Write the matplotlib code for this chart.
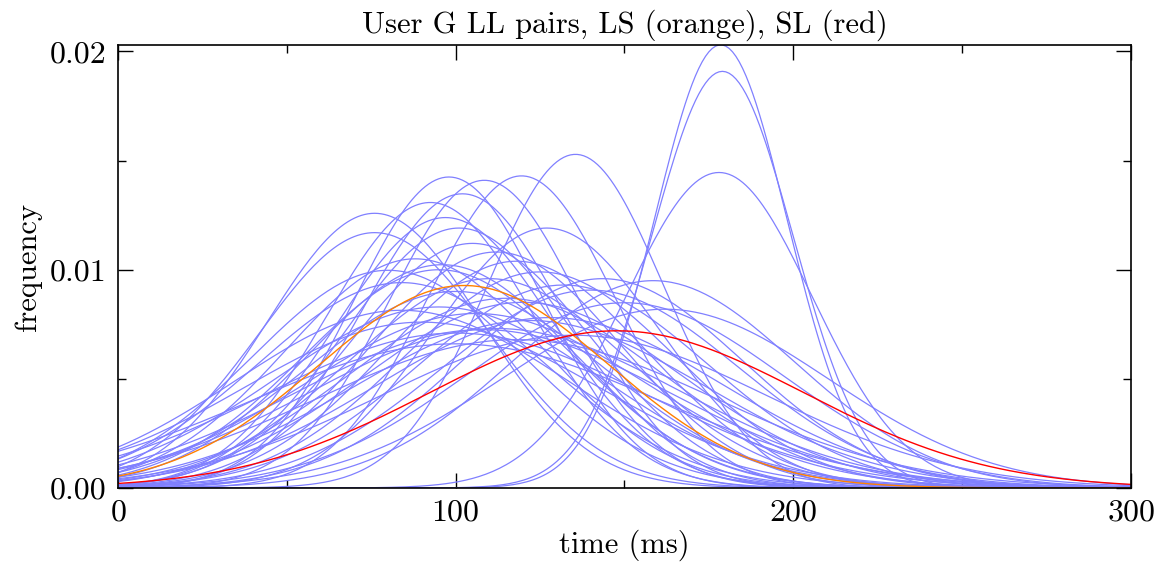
import numpy as np
import matplotlib
matplotlib.use("Agg")
import matplotlib.pyplot as plt
from matplotlib.ticker import MultipleLocator, FormatStrFormatter

plt.rcParams['font.family'] = 'cmr10'
plt.rcParams['axes.formatter.use_mathtext'] = True
plt.rcParams['mathtext.fontset'] = 'cm'

# gaussian fits (mean, sd in ms) of the LL pairs
ll_mu = [178.5, 179, 178, 76, 76, 98, 108.5, 119.5, 135.5, 92.5, 102, 127, 97, 101,
         105, 112, 88, 118, 95, 125, 110, 84, 132, 100, 143.5, 158.5, 162, 115, 120,
         95, 106, 128, 90, 112, 100, 135, 118, 100, 80, 84, 150, 140, 122, 108, 96]
ll_sd = [19.65, 20.9, 27.6, 31.7, 34.1, 28.0, 28.3, 27.9, 26.1, 30.5, 29.6, 33.5, 32.2, 33.5,
         35.6, 36.9, 38.0, 38.4, 39.9, 40.3, 41.6, 42.4, 42.9, 44.3, 41.6, 42.0, 48.7, 45.9, 46.9,
         48.1, 49.9, 51.1, 52.5, 54.6, 56.2, 57.0, 58.7, 60.4, 40.0, 49.0, 47.0, 44.0, 52.0, 55.0, 39.0]
ls_mu, ls_sd = 102.5, 43.0
sl_mu, sl_sd = 147.7, 55.4

t = np.linspace(0, 300, 301)


def gauss(x, mu, sd):
    return np.exp(-0.5 * ((x - mu) / sd) ** 2) / (sd * np.sqrt(2 * np.pi))


fig = plt.figure(figsize=(11.59, 5.71), dpi=100)
ax = fig.add_axes([0.1018, 0.1454, 0.8740, 0.7758])

top = 0
for mu, sd in zip(ll_mu, ll_sd):
    y = gauss(t, mu, sd)
    top = max(top, y.max())
    ax.plot(t, y, color='#8080ff', lw=0.9)
ax.plot(t, gauss(t, ls_mu, ls_sd), color='#ff8000', lw=1.0)
ax.plot(t, gauss(t, sl_mu, sl_sd), color='red', lw=1.0)

ax.set_xlim(0, 300)
ax.set_ylim(0, top)
ax.xaxis.set_major_locator(MultipleLocator(100))
ax.xaxis.set_minor_locator(MultipleLocator(50))
ax.yaxis.set_major_locator(MultipleLocator(0.01))
ax.yaxis.set_minor_locator(MultipleLocator(0.005))
ax.yaxis.set_major_formatter(FormatStrFormatter('%.2f'))
ax.tick_params(which='both', direction='in', top=True, right=True, labelsize=23, width=1.0)
ax.tick_params(which='major', length=11, pad=8)
ax.tick_params(which='minor', length=6)
for s in ax.spines.values():
    s.set_linewidth(1.2)

ax.set_xlabel('time (ms)', fontsize=22, labelpad=2)
ax.set_ylabel('frequency', fontsize=22, labelpad=6)
ax.set_title('User G LL pairs, LS (orange), SL (red)', fontsize=22, pad=9)

fig.savefig('out.png', dpi=100)
